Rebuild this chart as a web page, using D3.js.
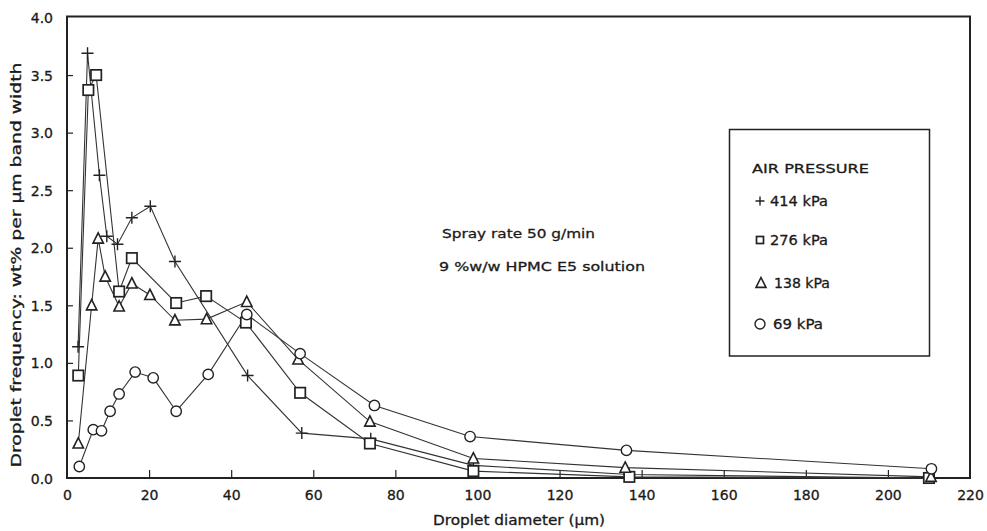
<!DOCTYPE html>
<html><head><meta charset="utf-8">
<script src="https://cdn.jsdelivr.net/npm/d3@7"></script>
<style>body{margin:0;background:#fff}svg{display:block}text{font-family:"DejaVu Sans",sans-serif;fill:#1a1a1a;stroke:#1a1a1a;stroke-width:0.3px}</style>
</head><body><svg id="c" width="987" height="531"></svg>
<script>
// Data
const x414 = [2.7, 5.0, 7.9, 9.7, 12.3, 15.8, 20.3, 26.3, 44.0, 57.2, 74.0, 99.0, 137.0, 210.0];
const y414 = [1.14, 3.69, 2.63, 2.10, 2.03, 2.26, 2.36, 1.88, 0.89, 0.39, 0.34, 0.11, 0.03, 0.0];
const x276 = [2.75, 5.2, 7.1, 12.7, 15.8, 26.6, 33.9, 43.6, 56.8, 73.8, 99.0, 137.0, 210.0];
const y276 = [0.89, 3.37, 3.50, 1.62, 1.91, 1.52, 1.58, 1.35, 0.74, 0.30, 0.06, 0.01, 0.0];
const x138 = [2.75, 6.0, 7.6, 9.3, 12.7, 15.8, 20.2, 26.3, 34.0, 43.8, 56.3, 73.8, 99.0, 136.0, 210.5];
const y138 = [0.30, 1.50, 2.08, 1.75, 1.49, 1.69, 1.59, 1.37, 1.38, 1.53, 1.03, 0.49, 0.17, 0.09, 0.01];
const x69 = [3.0, 6.4, 8.4, 10.5, 12.7, 16.6, 21.0, 26.6, 34.4, 43.8, 56.8, 74.9, 98.2, 136.3, 210.6];
const y69 = [0.10, 0.42, 0.41, 0.58, 0.73, 0.92, 0.87, 0.58, 0.90, 1.42, 1.08, 0.63, 0.36, 0.24, 0.08];
const seriesNames = ["414 kPa", "276 kPa", "138 kPa", "69 kPa"];
const seriesSymbols = ["plus", "square", "triangle", "circle"];
const xTicks = [0, 20, 40, 60, 80, 100, 120, 140, 160, 180, 200, 220];
const yTicks = [0.0, 0.5, 1.0, 1.5, 2.0, 2.5, 3.0, 3.5, 4.0];
const xTitle = "Droplet diameter (\u03bcm)";
const yTitle = "Droplet frequency: wt% per \u03bcm band width";
const legendTitle = "AIR PRESSURE";
const notes = ["Spray rate 50 g/min", "9 %w/w HPMC E5 solution"];

const series = [
  {xs:x414, ys:y414}, {xs:x276, ys:y276}, {xs:x138, ys:y138}, {xs:x69, ys:y69}
].map((s,i)=>({name:seriesNames[i], sym:seriesSymbols[i], pts:s.xs.map((x,j)=>[x,s.ys[j]])}));

const svg = d3.select("#c");
const L=67, R=970, T=17.5, B=478;
const x = d3.scaleLinear().domain([0,220]).range([L,R]);
const y = d3.scaleLinear().domain([0,4]).range([B,T]);
const ink="#222";

// frame
svg.append("rect").attr("x",L).attr("y",T-1).attr("width",R-L).attr("height",B-T+1)
  .attr("fill","none").attr("stroke",ink).attr("stroke-width",2);

// x axis
const xa = svg.append("g").attr("transform",`translate(0,${B})`)
  .call(d3.axisBottom(x).tickValues(xTicks).tickSize(-8).tickPadding(12).tickFormat(d3.format("d")));
xa.select(".domain").remove();
xa.selectAll("line").attr("stroke",ink).attr("stroke-width",1.2)
  .style("display",(d)=> (d===0||d===220)?"none":null);
xa.selectAll("text").attr("font-size",14).attr("fill","#1a1a1a").style("font-family","DejaVu Sans");

// y axis
const ya = svg.append("g").attr("transform",`translate(${L},0)`)
  .call(d3.axisLeft(y).tickValues(yTicks).tickSize(-6).tickPadding(14).tickFormat(d3.format(".1f")));
ya.select(".domain").remove();
ya.selectAll("line").attr("stroke",ink).attr("stroke-width",1.2)
  .style("display",(d)=> (d===0||d===4)?"none":null);
ya.selectAll("text").attr("font-size",14).attr("fill","#1a1a1a").attr("dy","0.36em").style("font-family","DejaVu Sans");

// titles
svg.append("text").attr("x",519).attr("y",525).attr("text-anchor","middle").attr("font-size",13.5)
  .attr("textLength",172).attr("lengthAdjust","spacingAndGlyphs").text(xTitle);
svg.append("text").attr("transform","translate(21,265) rotate(-90)").attr("text-anchor","middle")
  .attr("font-size",13.5).attr("textLength",405).attr("lengthAdjust","spacingAndGlyphs").text(yTitle);

// notes
svg.append("text").attr("x",442).attr("y",238).attr("font-size",13).attr("textLength",153).attr("lengthAdjust","spacingAndGlyphs").text(notes[0]);
svg.append("text").attr("x",439).attr("y",271).attr("font-size",13).attr("textLength",206).attr("lengthAdjust","spacingAndGlyphs").text(notes[1]);

// symbols
function drawSym(g, sym, cx, cy, s){
  if(sym==="plus"){
    g.append("path").attr("d",`M${cx-s},${cy}H${cx+s}M${cx},${cy-s}V${cy+s}`).attr("stroke",ink).attr("stroke-width",1.4).attr("fill","none");
  } else if(sym==="square"){
    g.append("rect").attr("x",cx-s).attr("y",cy-s).attr("width",2*s).attr("height",2*s).attr("fill","#fff").attr("stroke",ink).attr("stroke-width",1.7);
  } else if(sym==="triangle"){
    const h=s*1.1;
    g.append("path").attr("d",`M${cx},${cy-h}L${cx+s},${cy+h*0.8}L${cx-s},${cy+h*0.8}Z`).attr("fill","#fff").attr("stroke",ink).attr("stroke-width",1.6);
  } else {
    g.append("circle").attr("cx",cx).attr("cy",cy).attr("r",s).attr("fill","#fff").attr("stroke",ink).attr("stroke-width",1.4);
  }
}

const line = d3.line().x(d=>x(d[0])).y(d=>y(d[1]));
const gl = svg.append("g");
series.forEach(s=>{
  gl.append("path").datum(s.pts).attr("d",line).attr("fill","none").attr("stroke","#333").attr("stroke-width",1.1);
});
const gm = svg.append("g");
series.forEach(s=>{
  s.pts.forEach(p=>drawSym(gm, s.sym, x(p[0]), y(p[1]), s.sym==="plus"?6:5.2));
});

// legend
svg.append("rect").attr("x",729.5).attr("y",129.5).attr("width",200).attr("height",226.5)
  .attr("fill","#fff").attr("stroke",ink).attr("stroke-width",1.5);
svg.append("text").attr("x",752).attr("y",173).attr("font-size",13).attr("textLength",117).attr("lengthAdjust","spacingAndGlyphs").text(legendTitle);
const legY=[201,240,283,324];
const legTX=[770,770,774,773];
const legW=[58,58,56,50];
series.forEach((s,i)=>{
  const lg = svg.append("g");
  drawSym(lg, s.sym, s.sym==="triangle"?761:760, legY[i], s.sym==="plus"?4.5:(s.sym==="square"?3.5:5));
  lg.append("text").attr("x",legTX[i]).attr("y",legY[i]+5).attr("font-size",13.5)
    .attr("textLength",legW[i]).attr("lengthAdjust","spacingAndGlyphs").text(s.name);
});
</script></body></html>
